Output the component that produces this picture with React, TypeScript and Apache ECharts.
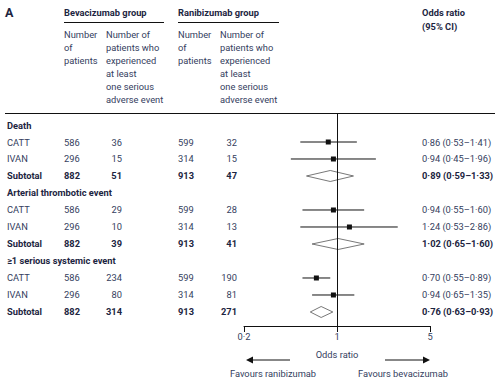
import React, { useEffect, useRef } from "react";
import * as echarts from "echarts";

// ---- data ----
const groupNames = ["Death", "Arterial thrombotic event", "≥1 serious systemic event"];
const studyNames = ["CATT", "IVAN", "Subtotal"];
const bevaPatients = [586, 296, 882, 586, 296, 882, 586, 296, 882];
const bevaEvents = [36, 15, 51, 29, 10, 39, 234, 80, 314];
const raniPatients = [599, 314, 913, 599, 314, 913, 599, 314, 913];
const raniEvents = [32, 15, 47, 28, 13, 41, 190, 81, 271];
const oddsRatio = [0.86, 0.94, 0.89, 0.94, 1.24, 1.02, 0.7, 0.94, 0.76];
const ciLow = [0.53, 0.45, 0.59, 0.55, 0.53, 0.65, 0.55, 0.65, 0.63];
const ciHigh = [1.41, 1.96, 1.33, 1.6, 2.86, 1.6, 0.89, 1.35, 0.93];
const xTicks = [0.2, 1, 5];

const FONT = "Roboto";
const FS = 9.3;
const C_REG = "#34405e";
const C_BOLD = "#1c2541";

const fmt = (v: number) => v.toFixed(2).replace(".", "·");

export default function App() {
  const ref = useRef<HTMLDivElement>(null);
  useEffect(() => {
    document.body.style.margin = "0";
    const chart = echarts.init(ref.current!, null, { renderer: "svg" });

    const tableRows: any[] = [];
    groupNames.forEach((g, gi) => {
      tableRows.push({ row: gi * 4, header: g });
      studyNames.forEach((s, si) => {
        tableRows.push({ row: gi * 4 + 1 + si, idx: gi * 3 + si, label: s });
      });
    });
    const forestData = oddsRatio.map((v, i) => {
      const gi = Math.floor(i / 3);
      const si = i % 3;
      return [v, gi * 4 + 1 + si, ciLow[i], ciHigh[i], si === 2 ? 1 : 0];
    });

    const txt = (x: number, y: number, text: string, bold: boolean, align = "left", size = FS) => ({
      type: "text",
      x,
      y,
      style: {
        text,
        fill: bold ? C_BOLD : C_REG,
        fontFamily: FONT,
        fontSize: size,
        fontWeight: bold ? "bold" : "normal",
        textAlign: align,
        textVerticalAlign: "middle",
      },
      silent: true,
    });

    const headerGraphics: any[] = [
      txt(5, 12, "A", true, "left", 12.5),
      txt(64, 12, "Bevacizumab group", true),
      txt(178, 12, "Ranibizumab group", true),
      txt(422, 12, "Odds ratio", true),
      txt(422, 26, "(95% CI)", true),
      { type: "line", shape: { x1: 64, y1: 22.5, x2: 164, y2: 22.5 }, style: { stroke: "#111", lineWidth: 1 } },
      { type: "line", shape: { x1: 178, y1: 22.5, x2: 279, y2: 22.5 }, style: { stroke: "#111", lineWidth: 1 } },
      { type: "line", shape: { x1: 5, y1: 113.5, x2: 495, y2: 113.5 }, style: { stroke: "#111", lineWidth: 1 } },
    ];
    const sub1 = ["Number", "of", "patients"];
    const sub2 = ["Number of", "patients who", "experienced", "at least", "one serious", "adverse event"];
    sub1.forEach((t, k) => {
      headerGraphics.push(txt(64, 34.5 + 13 * k, t, false));
      headerGraphics.push(txt(178, 34.5 + 13 * k, t, false));
    });
    sub2.forEach((t, k) => {
      headerGraphics.push(txt(106, 34.5 + 13 * k, t, false));
      headerGraphics.push(txt(220, 34.5 + 13 * k, t, false));
    });
    headerGraphics.push(
      { type: "line", shape: { x1: 252, y1: 360, x2: 290, y2: 360 }, style: { stroke: "#111", lineWidth: 1 } },
      { type: "polygon", shape: { points: [[246, 360], [253, 356.5], [253, 363.5]] }, style: { fill: "#111" } },
      { type: "line", shape: { x1: 385, y1: 360, x2: 424, y2: 360 }, style: { stroke: "#111", lineWidth: 1 } },
      { type: "polygon", shape: { points: [[430, 360], [423, 356.5], [423, 363.5]] }, style: { fill: "#111" } },
      txt(273, 373, "Favours ranibizumab", false, "center"),
      txt(403, 373, "Favours bevacizumab", false, "center")
    );

    chart.setOption({
      animation: false,
      grid: { left: 244, right: 70, top: 113, bottom: 65 },
      xAxis: {
        type: "log",
        min: 0.2,
        max: 5,
        name: "Odds ratio",
        nameLocation: "middle",
        nameGap: 24,
        nameTextStyle: { color: C_REG, fontFamily: FONT, fontSize: FS },
        axisLine: { show: true, onZero: false, lineStyle: { color: "#111", width: 1 } },
        axisTick: { show: true, length: 6, lineStyle: { color: "#111" }, customValues: xTicks },
        axisLabel: {
          show: true,
          customValues: xTicks,
          margin: 6,
          color: C_REG,
          fontFamily: FONT,
          fontSize: FS,
          formatter: (v: number) => String(Math.round(v * 10) / 10).replace(".", "·"),
        },
        splitLine: { show: false },
        minorTick: { show: false },
      },
      yAxis: { type: "value", inverse: true, min: -0.706, max: 11.824, show: false },
      graphic: headerGraphics,
      series: [
        {
          type: "custom",
          silent: true,
          data: tableRows.map((r) => [1, r.row]),
          renderItem: (params: any, api: any) => {
            const r = tableRows[params.dataIndex];
            const y = api.coord([1, r.row])[1];
            if (r.header) {
              return { type: "group", children: [txt(7, y, r.header, true)] };
            }
            const i = r.idx;
            const bold = r.label === "Subtotal";
            return {
              type: "group",
              children: [
                txt(7, y, r.label, bold),
                txt(64, y, String(bevaPatients[i]), bold),
                txt(122, y, String(bevaEvents[i]), bold, "right"),
                txt(178, y, String(raniPatients[i]), bold),
                txt(237, y, String(raniEvents[i]), bold, "right"),
                txt(422, y, `${fmt(oddsRatio[i])} (${fmt(ciLow[i])}–${fmt(ciHigh[i])})`, bold),
              ],
            };
          },
        },
        {
          type: "custom",
          silent: true,
          data: forestData,
          markLine: {
            silent: true,
            symbol: "none",
            label: { show: false },
            lineStyle: { color: "#111", width: 1, type: "solid" },
            data: [{ xAxis: 1 }],
          },
          renderItem: (params: any, api: any) => {
            const p = api.coord([api.value(0), api.value(1)]);
            const pl = api.coord([api.value(2), api.value(1)]);
            const ph = api.coord([api.value(3), api.value(1)]);
            if (api.value(4) === 1) {
              return {
                type: "polygon",
                shape: { points: [[pl[0], p[1]], [p[0], p[1] - 5.5], [ph[0], p[1]], [p[0], p[1] + 5.5]] },
                style: { fill: "#fff", stroke: "#555", lineWidth: 0.8 },
              };
            }
            return {
              type: "group",
              children: [
                { type: "line", shape: { x1: pl[0], y1: p[1], x2: ph[0], y2: p[1] }, style: { stroke: "#111", lineWidth: 1 } },
                { type: "rect", shape: { x: p[0] - 2.5, y: p[1] - 2.5, width: 5, height: 5 }, style: { fill: "#111" } },
              ],
            };
          },
        },
      ],
    });
    return () => chart.dispose();
  }, []);
  return <div ref={ref} style={{ width: 500, height: 391 }} />;
}
